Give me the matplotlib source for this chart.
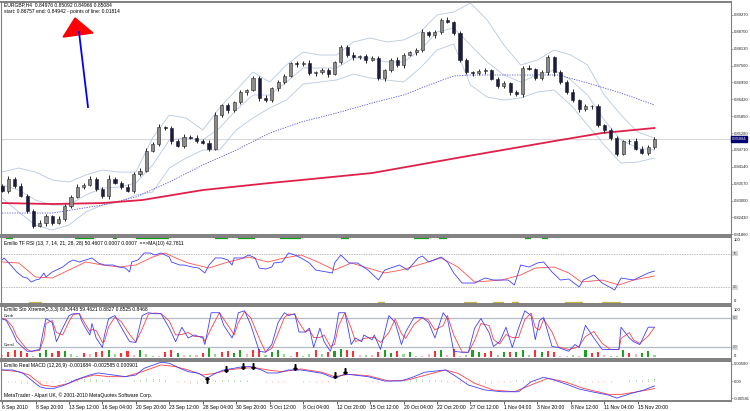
import numpy as np
import matplotlib.pyplot as plt
from matplotlib.patches import Polygon

plt.rcParams['font.family'] = ['Liberation Sans', 'DejaVu Sans']

# ---------------- data ----------------
# EURGBP H4, one candle drawn per 3 bars
first_open = 0.8350
closes = [0.83332, 0.83739, 0.83502, 0.83163, 0.82654, 0.82145, 0.82246, 0.82484, 0.82246, 0.82382,
          0.82823, 0.83129, 0.83468, 0.83536, 0.83739, 0.83400, 0.83163, 0.83739, 0.83604, 0.83468,
          0.83332, 0.83909, 0.84011, 0.84690, 0.84927, 0.85470, 0.85436, 0.85029, 0.84859, 0.85164,
          0.85130, 0.85029, 0.84961, 0.84757, 0.85877, 0.86216, 0.86047, 0.86318, 0.86657, 0.86725,
          0.87132, 0.86454, 0.86386, 0.86793, 0.86997, 0.87200, 0.87641, 0.87607, 0.87641, 0.87302,
          0.87336, 0.87404, 0.87268, 0.87675, 0.88184, 0.87913, 0.87845, 0.87879, 0.87743, 0.87811,
          0.87132, 0.87404, 0.87743, 0.87573, 0.87913, 0.88015, 0.88082, 0.88693, 0.88591, 0.88693,
          0.89100, 0.89032, 0.88659, 0.87743, 0.87336, 0.87302, 0.87370, 0.87404, 0.87098, 0.86861,
          0.86963, 0.86657, 0.86590, 0.87472, 0.87438, 0.87132, 0.87336, 0.87845, 0.87336, 0.86997,
          0.86657, 0.86386, 0.86081, 0.86182, 0.86182, 0.85538, 0.85368, 0.85097, 0.84588, 0.85000,
          0.85029, 0.84757, 0.84622, 0.84825, 0.85084]
# wick lengths in pips
wick_up = [6, 9, 4, 8, 5, 7, 10, 6, 4, 8, 7, 5, 9, 6, 8, 4, 7, 11, 5, 6,
           8, 4, 9, 7, 5, 10, 6, 8, 4, 7, 6, 9, 5, 8, 12, 4, 7, 6, 9, 5,
           8, 6, 10, 4, 7, 9, 5, 8, 6, 11, 4, 7, 9, 5, 6, 8, 10, 4, 7, 6,
           9, 5, 8, 12, 6, 4, 7, 9, 5, 8, 6, 10, 4, 7, 9, 5, 8, 6, 4, 7,
           9, 5, 8, 6, 10, 4, 7, 9, 5, 6, 8, 12, 4, 7, 6, 9, 5, 8, 10, 6,
           4, 7, 9, 5, 6]
wick_dn = [5, 7, 9, 4, 6, 8, 5, 10, 7, 4, 6, 9, 5, 8, 4, 7, 6, 10, 5, 8,
           4, 7, 9, 6, 5, 8, 4, 11, 6, 7, 5, 8, 6, 9, 4, 7, 10, 5, 6, 8,
           4, 9, 7, 5, 8, 6, 4, 10, 7, 5, 8, 6, 9, 4, 7, 5, 8, 6, 11, 4,
           7, 9, 5, 6, 8, 4, 10, 7, 5, 9, 6, 4, 8, 7, 5, 9, 6, 10, 4, 7,
           5, 8, 6, 9, 4, 7, 5, 8, 12, 6, 4, 7, 9, 5, 8, 6, 10, 4, 7, 5,
           9, 6, 4, 8, 7]

# bollinger bands, sampled every 8 bars
band_t = [0, 8, 16, 24, 32, 40, 48, 56, 64, 72, 80, 88, 96, 104, 112, 120, 128, 136, 144, 152,
          160, 168, 176, 184, 192, 200, 208, 216, 224, 232, 240, 248, 256, 264, 272, 280, 288, 296, 304, 312]
band_upper = [0.83963, 0.84099, 0.83963, 0.83693, 0.83625, 0.83862, 0.84031, 0.83963, 0.83963, 0.85113,
              0.85890, 0.85789, 0.85383, 0.86127, 0.86735, 0.87343, 0.87005, 0.87580, 0.88019, 0.87918,
              0.87918, 0.88357, 0.88493, 0.88357, 0.88425, 0.88695, 0.89270, 0.89371, 0.89676, 0.89101,
              0.88256, 0.87580, 0.87749, 0.88087, 0.87918, 0.87580, 0.86566, 0.85890, 0.85315, 0.85113]
band_mid = [0.83524, 0.83355, 0.83017, 0.82848, 0.82848, 0.83186, 0.83423, 0.83456, 0.83592, 0.84200,
            0.85045, 0.85113, 0.85045, 0.85451, 0.86059, 0.86566, 0.86566, 0.87005, 0.87479, 0.87479,
            0.87479, 0.87817, 0.87817, 0.87681, 0.87681, 0.88087, 0.88695, 0.88831, 0.88256, 0.87681,
            0.87242, 0.87005, 0.87242, 0.87411, 0.87073, 0.86566, 0.85721, 0.85045, 0.84775, 0.84707]
band_lower = [0.83085, 0.82611, 0.82172, 0.82003, 0.82172, 0.82611, 0.82848, 0.82949, 0.83186, 0.83287,
              0.84099, 0.84437, 0.84707, 0.84707, 0.85383, 0.85789, 0.86127, 0.86397, 0.86938, 0.87005,
              0.87073, 0.87276, 0.87141, 0.87073, 0.87005, 0.87479, 0.88087, 0.88290, 0.86904, 0.86498,
              0.86397, 0.86465, 0.86667, 0.86735, 0.86228, 0.85552, 0.84876, 0.84268, 0.84301, 0.84437]

# dotted blue moving average and red 200 moving average
ma_blue_t = [0, 24, 48, 64, 80, 96, 112, 128, 143, 160, 177, 192, 208, 216, 224, 239, 256, 266, 280, 296, 312]
ma_blue = [0.82578, 0.82578, 0.82848, 0.83118, 0.83625, 0.84200, 0.84707, 0.85282, 0.85653, 0.85958,
           0.86296, 0.86566, 0.87005, 0.87208, 0.87242, 0.87242, 0.87242, 0.87242, 0.86972, 0.86634, 0.86228]
ma_red_t = [0, 24, 48, 67, 96, 128, 143, 177, 220, 267, 287, 312]
ma_red = [0.82916, 0.82882, 0.82916, 0.83017, 0.83355, 0.83592, 0.83693, 0.83930, 0.84470, 0.85045, 0.85282, 0.85451]

last_price = 0.85084
# objects drawn on the chart (triangle + line)
tri_t = [29.2, 34.9, 43.5]
tri_p = [0.88526, 0.89168, 0.88663]
line_t = [36.8, 41.1]
line_p = [0.88695, 0.86160]

# Emilio TF RSI
rsi_t = [0, 1, 5, 7, 10, 12, 14, 16, 18, 20, 21, 24, 26, 29, 32, 34, 37, 40, 43, 46,
         49, 53, 56, 59, 61, 62, 65, 68, 71, 73, 76, 80, 81, 85, 87, 91, 94, 97, 99, 102,
         105, 108, 110, 111, 115, 118, 121, 123, 126, 129, 130, 134, 137, 140, 143, 147, 150, 158, 159, 162,
         166, 170, 175, 180, 183, 190, 194, 199, 201, 204, 210, 213, 216, 220, 226, 231, 235, 242, 245, 248,
         252, 256, 259, 263, 267, 271, 276, 278, 283, 287, 293, 296, 302, 309, 312]
rsi = [65.7, 68.7, 55.2, 47.8, 40.3, 38.8, 32.8, 35.8, 37.3, 46.3, 40.3, 47.8, 50.7, 55.2, 62.7, 65.7, 62.7, 65.7, 68.7, 61.2,
       58.2, 58.2, 55.2, 53.7, 47.8, 62.7, 65.7, 76.1, 76.1, 73.1, 76.1, 70.1, 62.7, 58.2, 58.2, 55.2, 53.7, 46.3, 58.2, 68.7,
       68.7, 65.7, 58.2, 68.7, 68.7, 73.1, 68.7, 53.7, 52.2, 55.2, 61.2, 62.7, 76.1, 73.1, 68.7, 61.2, 50.7, 46.3, 61.2, 73.1,
       61.2, 61.2, 50.7, 35.8, 50.7, 58.2, 50.7, 68.7, 71.6, 62.7, 70.1, 62.7, 46.3, 31.3, 31.3, 38.8, 35.8, 35.8, 28.4, 58.2,
       55.2, 61.2, 62.7, 47.8, 35.8, 37.3, 25.4, 35.8, 43.3, 31.3, 20.9, 38.8, 35.8, 46.3, 49.3]
rsi_ma_t = [0, 8, 16, 24, 32, 40, 48, 56, 64, 72, 78, 83, 89, 99, 108, 118, 127, 135, 143, 151,
            159, 167, 175, 183, 191, 199, 210, 218, 226, 239, 248, 255, 264, 271, 277, 287, 295, 302, 312]
rsi_ma = [62.7, 61.2, 40.3, 38.8, 50.7, 62.7, 58.2, 55.2, 58.2, 70.1, 76.1, 68.7, 61.2, 53.7, 62.7, 70.1, 62.7, 68.7, 73.1, 62.7,
          50.7, 61.2, 53.7, 46.3, 50.7, 58.2, 68.7, 55.2, 32.8, 35.8, 43.3, 53.7, 55.2, 46.3, 32.8, 35.8, 28.4, 35.8, 41.8]
rsi_hi_start = [2, 35, 53, 64, 102, 113, 133, 162, 197, 209, 250, 258]
rsi_hi_end = [5, 44, 55, 80, 108, 121, 143, 166, 204, 213, 253, 261]
rsi_lo_start = [13, 180, 221, 235, 244, 269, 287]
rsi_lo_end = [19, 183, 227, 240, 247, 278, 296]

# Emilio Sto Xtreme
sto_t = [0, 2, 5, 7, 10, 12, 14, 18, 20, 21, 24, 26, 29, 32, 34, 37, 38, 40, 42, 43,
         45, 48, 49, 51, 54, 57, 61, 64, 67, 70, 73, 76, 80, 83, 86, 89, 92, 96, 97, 100,
         104, 106, 110, 111, 113, 116, 119, 123, 126, 129, 132, 135, 137, 140, 142, 145, 147, 149, 152, 154,
         157, 159, 161, 164, 167, 169, 172, 173, 177, 178, 181, 185, 188, 191, 193, 197, 201, 204, 207, 211,
         213, 216, 220, 223, 226, 229, 233, 235, 238, 241, 244, 247, 250, 253, 255, 257, 259, 263, 266, 271,
         274, 276, 279, 283, 287, 291, 295, 296, 300, 302, 305, 309, 312]
sto_main = [77.5, 74.2, 51, 31.6, 20, 12.3, 12.3, 16, 58.7, 78, 70, 31.6, 58.7, 83.9, 87.7, 87.7, 74, 58.7, 45, 68,
            39, 20, 45, 78, 84, 60.6, 31.6, 30, 84, 89.7, 87.7, 87.7, 58.7, 31.6, 60.6, 39, 45, 39, 25.8, 89.7,
            89.7, 64.5, 39, 51, 89.7, 93.5, 64.5, 12.3, 10.3, 25.8, 70, 89.7, 84, 87.7, 51, 51, 58.7, 20, 58.7, 31.6,
            12.3, 39, 89.7, 89.7, 25.8, 39, 31.6, 45, 35.5, 45, 16, 84, 70, 25.8, 51, 80, 80, 70, 39, 89.7,
            78, 12.3, 10.3, 10.3, 58.7, 78, 49, 22, 31.6, 60.6, 20, 58.7, 93.5, 84, 35.5, 74, 80, 22, 20, 12.3,
            25.8, 20, 64.5, 39, 16, 16, 16, 60.6, 39, 31.6, 25.8, 60.6, 60.6]
sto_signal = [78, 76, 62, 42, 26, 16, 12, 14, 38, 68, 74, 50, 45, 72, 86, 88, 80, 66, 52, 56,
              54, 30, 32, 62, 81, 72, 46, 31, 57, 87, 89, 88, 73, 45, 46, 50, 42, 42, 32, 58,
              90, 77, 52, 45, 70, 92, 79, 38, 11, 18, 48, 80, 87, 86, 70, 51, 55, 40, 40, 45,
              22, 26, 64, 90, 58, 32, 35, 38, 40, 40, 30, 50, 77, 48, 38, 66, 80, 75, 55, 64,
              84, 45, 11, 10, 34, 68, 64, 36, 27, 46, 40, 40, 76, 89, 60, 55, 77, 51, 21, 16,
              19, 23, 42, 52, 28, 16, 16, 38, 50, 35, 28, 43, 60]
# histogram every 3 bars, + green / - red
sto_hist = [-5, -10, -15, -12, -8, 3, 8, 15, -8, -12, 12, 6, 3, -8, -6, -10, -12, 15, 6, -8,
            -12, -5, 15, 6, 2, -3, -10, -14, 8, -5, 5, -4, -8, 18, 6, -10, -12, 8, 14, -6,
            -14, -16, 4, 10, 14, 6, -3, -10, 3, 6, -14, 6, -10, 12, 16, -14, -12, -4, 5, -4,
            -10, 14, 8, -12, 6, 10, 3, -2, -6, -12, 15, -4, -16, -3, 4, 14, 10, -8, -12, 4,
            10, -10, 10, 15, 4, -15, 10, -12, -10, -3, -3, 5, -3, 14, -8, -10, -5, 2, 2, 15,
            -8, -6, 8, 12, 4]

# Emilio Real MACD
macd_t = [0, 5, 10, 14, 18, 21, 25, 30, 35, 42, 46, 53, 59, 64, 68, 76, 80, 85, 89, 94,
          98, 102, 106, 111, 115, 119, 124, 127, 132, 137, 143, 153, 159, 164, 175, 183, 191, 197, 202, 212,
          216, 223, 231, 239, 247, 253, 259, 264, 271, 276, 282, 290, 294, 301, 307, 312]
macd = [0.00375, 0.00375, 0.00263, 0.00034, -0.00194, -0.00249, -0.00249, -0.00136, 0.00034, 0.00205,
        0.00273, 0.00205, 0.00147, 0.00205, 0.00433, 0.00638, 0.00604, 0.00433, 0.00317, 0.00263,
        0.00092, 0.00263, 0.00375, 0.00433, 0.00488, 0.00488, 0.00375, 0.00273, 0.00273, 0.00375,
        0.00375, 0.00263, 0.00092, 0.00239, 0.00147, 0.0, 0.0, 0.00147, 0.00297, 0.00375,
        0.00205, -0.00136, -0.00307, -0.00365, -0.00365, -0.00024, 0.00126, 0.00034, -0.00136, -0.00273,
        -0.00365, -0.00477, -0.00580, -0.00419, -0.00307, -0.00168]
macd_sig_t = [0, 8, 13, 19, 25, 32, 38, 44, 51, 59, 67, 76, 83, 89, 96, 102, 108, 115, 121, 127,
              134, 143, 153, 159, 166, 175, 185, 194, 204, 212, 218, 226, 235, 245, 255, 261, 269, 278, 290, 296,
              304, 312]
macd_sig = [0.00375, 0.00317, 0.00205, -0.00136, -0.00194, -0.00078, 0.00092, 0.00205, 0.00147, 0.00147,
            0.00317, 0.00546, 0.00488, 0.00375, 0.00205, 0.00263, 0.00375, 0.00433, 0.00454, 0.00375,
            0.00317, 0.00409, 0.00297, 0.00147, 0.00228, 0.00181, 0.0, 0.00034, 0.00228, 0.00375,
            0.00263, -0.00078, -0.00307, -0.00365, -0.00078, 0.00092, -0.00024, -0.00249, -0.00454, -0.00454,
            -0.00365, -0.00259]
# histogram every 3 bars, units of 1e-4
macd_hist = [0, -3, -5, -6, -7, -8, -7, -6, -5, -3, 2, 5, 7, 8, 8, 6, 4, 2, 1, 1,
             0, 2, 4, 6, 7, 6, 4, 0, -3, -5, -6, -6, -5, -3, 2, 3, 4, 3, 3, 2,
             1, 0, -2, -3, -3, -2, -1, -1, -3, -4, -5, -4, -3, -2, 1, 2, 1, -1, -2, -3,
             -3, -2, -1, 1, 3, 5, 6, 6, 5, 4, 2, -2, -4, -6, -7, -8, -8, -7, -6, -5,
             -4, -2, 2, 4, 5, 5, 3, 1, -2, -3, -4, -5, -5, -4, -4, -4, -3, -2, -1, 1,
             2, 3, 5, 7, 9]
arrow_up_t = [98]
arrow_up_v = [0.00020]
arrow_dn_t = [107, 115, 120, 140, 159, 164]
arrow_dn_v = [0.00420, 0.00520, 0.00520, 0.00480, 0.00220, 0.00330]

date_labels = ["6 Sep 2010", "8 Sep 20:00", "13 Sep 12:00", "16 Sep 04:00", "20 Sep 20:00",
               "23 Sep 12:00", "28 Sep 04:00", "30 Sep 20:00", "5 Oct 12:00", "8 Oct 04:00",
               "12 Oct 20:00", "15 Oct 12:00", "20 Oct 04:00", "22 Oct 20:00", "27 Oct 12:00",
               "1 Nov 04:00", "3 Nov 20:00", "8 Nov 12:00", "11 Nov 04:00", "15 Nov 20:00"]
price_ticks = [0.81860, 0.82430, 0.83000, 0.83570, 0.84140, 0.84710, 0.85280, 0.85850,
               0.86420, 0.86990, 0.87560, 0.88130, 0.88700, 0.89270]

# ---------------- figure ----------------
W, H = 750, 411
fig = plt.figure(figsize=(7.5, 4.11), dpi=100)
fig.patch.set_facecolor('white')
FS = 3.6     # panel texts
FSR = 3.0    # right-hand scale
GRID = '#808080'


def panel(top, bottom):
    return fig.add_axes([1 / W, 1 - bottom / H, 730 / W, (bottom - top) / H])


ax = panel(2, 235)
ax_rsi = panel(237, 304)
ax_sto = panel(306, 359)
ax_macd = panel(361, 401)

for a in (ax, ax_rsi, ax_sto, ax_macd):
    a.set_xlim(-0.5, 348.6)
    for s in a.spines.values():
        s.set_color(GRID)
        s.set_linewidth(0.8)
    a.spines['top'].set_linewidth(1.4)
    a.spines['bottom'].set_linewidth(1.4)
    a.yaxis.tick_right()
    a.tick_params(axis='y', length=1.5, width=0.5, color=GRID, pad=0.5, labelsize=FSR, labelcolor='#202020')
    a.tick_params(axis='x', length=0, labelbottom=False)

# ---- main price panel ----
x = np.arange(len(closes)) * 3
c = np.array(closes)
o = np.array([first_open] + closes[:-1])
hi = np.maximum(o, c) + np.array(wick_up) * 0.0001
lo = np.minimum(o, c) - np.array(wick_dn) * 0.0001
bull = c >= o

ax.axhline(last_price, color='#d8d8d8', lw=0.8, zorder=0)
ax.plot(band_t, band_upper, color='#b8c8e0', lw=0.6, zorder=1)
ax.plot(band_t, band_mid, color='#b8c8e0', lw=0.6, zorder=1)
ax.plot(band_t, band_lower, color='#b8c8e0', lw=0.6, zorder=1)
ax.plot(ma_blue_t, ma_blue, color='#5050e0', lw=0.6, ls=(0, (1.5, 1.5)), zorder=1)
ax.plot(ma_red_t, ma_red, color='#e0204a', lw=1.3, zorder=2)

ax.vlines(x, lo, hi, color='#262626', lw=0.7, zorder=3)
ax.bar(x[bull], (c - o)[bull], bottom=o[bull], width=1.5, color='#8c8c8c',
       edgecolor='#262626', lw=0.4, zorder=4)
ax.bar(x[~bull], (c - o)[~bull], bottom=o[~bull], width=1.5, color='#1c1c3c',
       edgecolor='#1c1c2c', lw=0.4, zorder=4)

ax.add_patch(Polygon(list(zip(tri_t, tri_p)), closed=True, color='#ff0000', zorder=5))
ax.plot(line_t, line_p, color='#0000ff', lw=1.3, zorder=5)

ax.set_ylim(0.81836, 0.89709)
ax.set_yticks(price_ticks)
ax.set_yticklabels([f"{p:.5f}" for p in price_ticks])
ax.text(1.001, last_price, f"{last_price:.5f}", transform=ax.get_yaxis_transform(),
        fontsize=FSR, color='white', va='center', ha='left',
        bbox=dict(boxstyle='square,pad=0.2', fc='#000070', ec='#000070'))
ax.text(0.004, 0.987, "EURGBP,H4  0.84976 0.85092 0.84966 0.85084", transform=ax.transAxes,
        fontsize=FS, va='center', ha='left')
ax.text(0.004, 0.959, "start: 0.86757 end: 0.84942 - points of line: 0.01814", transform=ax.transAxes,
        fontsize=FS, va='center', ha='left')

# ---- RSI panel ----
ax_rsi.set_ylim(0, 100)
ax_rsi.axhline(75, color='#a0a0a0', lw=0.5, ls=(0, (2, 1.5)))
ax_rsi.axhline(25, color='#a0a0a0', lw=0.5, ls=(0, (2, 1.5)))
ax_rsi.hlines([98.5] * len(rsi_hi_start), rsi_hi_start, rsi_hi_end, color='#10a010', lw=1.6)
ax_rsi.hlines([1.5] * len(rsi_lo_start), rsi_lo_start, rsi_lo_end, color='#c8b048', lw=1.6)
ax_rsi.plot(rsi_ma_t, rsi_ma, color='#ff5050', lw=0.6)
ax_rsi.plot(rsi_t, rsi, color='#4040ff', lw=0.6)
ax_rsi.set_yticks([])
ax_rsi.text(0.004, 0.90, "Emilio TF RSI (13, 7, 14, 21, 28, 28) 50.4607 0.0007 0.0007  ==>MA(10) 42.7811",
            transform=ax_rsi.transAxes, fontsize=FS, va='center', ha='left')
for val, txt in ((95, "100"), (5, "0")):
    ax_rsi.text(1.004, val, txt, transform=ax_rsi.get_yaxis_transform(), fontsize=FSR, va='center', ha='left')
for val in (75, 25):
    ax_rsi.text(1.002, val, f"{val}", transform=ax_rsi.get_yaxis_transform(), fontsize=FSR, va='center',
                ha='left', color='#606060', bbox=dict(boxstyle='square,pad=0.15', fc='#d8d8d8', ec='none'))

# ---- Stochastic panel ----
ax_sto.set_ylim(-3.2, 103.2)
ax_sto.axhline(80, color='#b4bcc8', lw=0.9)
ax_sto.axhline(20, color='#b4bcc8', lw=0.9)
hx = np.arange(len(sto_hist)) * 3
hv = np.array(sto_hist, dtype=float)
cols = ['#20a020' if v > 0 else '#ff3030' for v in hv]
cols = [('#90d890' if v > 0 else '#ffb0b0') if abs(v) < 8 else cl for v, cl in zip(hv, cols)]
ax_sto.bar(hx, np.abs(hv), bottom=0, width=1.0, color=cols, lw=0)
ax_sto.plot(sto_t, sto_signal, color='#ff4040', lw=0.6)
ax_sto.plot(sto_t, sto_main, color='#4040ff', lw=0.6)
ax_sto.set_yticks([])
ax_sto.text(0.004, 0.925, "Emilio Sto Xtreme(5,3,3) 60.3448 59.4621 0.8827 0.8525 0.8468",
            transform=ax_sto.transAxes, fontsize=FS, va='center', ha='left')
ax_sto.text(0.004, 84, "Overb", fontsize=2.6, va='center', ha='left', transform=ax_sto.get_yaxis_transform())
ax_sto.text(0.004, 24, "Oversl", fontsize=2.6, va='center', ha='left', transform=ax_sto.get_yaxis_transform())
for val, txt in ((96, "100"), (2, "0")):
    ax_sto.text(1.004, val, txt, transform=ax_sto.get_yaxis_transform(), fontsize=FSR, va='center', ha='left')
for val in (80, 20):
    ax_sto.text(1.002, val, f"{val}", transform=ax_sto.get_yaxis_transform(), fontsize=FSR, va='center',
                ha='left', color='#606060', bbox=dict(boxstyle='square,pad=0.15', fc='#d8d8d8', ec='none'))

# ---- MACD panel ----
ax_macd.set_ylim(-0.0068, 0.0068)
mx = np.arange(len(macd_hist)) * 3
mv = np.array(macd_hist) * 0.0001
ax_macd.vlines(mx, 0, mv, colors=['#50b050' if v > 0 else '#ff9090' for v in mv],
               lw=0.7, linestyles=(0, (0.8, 0.8)))
ax_macd.plot(macd_sig_t, macd_sig, color='#ff4040', lw=0.6)
ax_macd.plot(macd_t, macd, color='#4040ff', lw=0.6)
ax_macd.plot(arrow_up_t, arrow_up_v, ls='none', marker=r'$\uparrow$', color='black', ms=4)
ax_macd.plot(arrow_dn_t, arrow_dn_v, ls='none', marker=r'$\downarrow$', color='black', ms=4)
ax_macd.set_yticks([0.0058, 0.0, -0.00581])
ax_macd.set_yticklabels(["0.00580", "0.00", "-0.00581"])
ax_macd.text(0.004, 0.88, "Emilio Real MACD (12,26,9) -0.001684 -0.002585 0.000901",
             transform=ax_macd.transAxes, fontsize=FS, va='center', ha='left')
ax_macd.text(0.004, 0.15, "MetaTrader - Alpari UK, \u00a9 2001-2010 MetaQuotes Software Corp.",
             transform=ax_macd.transAxes, fontsize=FS, va='center', ha='left')

ax_macd.set_xticks(np.arange(len(date_labels)) * 16)
ax_macd.set_xticklabels(date_labels)
ax_macd.tick_params(axis='x', length=2, width=0.5, color='#202020', pad=1, labelsize=FS, labelbottom=True)
for lbl in ax_macd.get_xticklabels():
    lbl.set_ha('left')

fig.savefig("out.png", dpi=100, facecolor='white')
